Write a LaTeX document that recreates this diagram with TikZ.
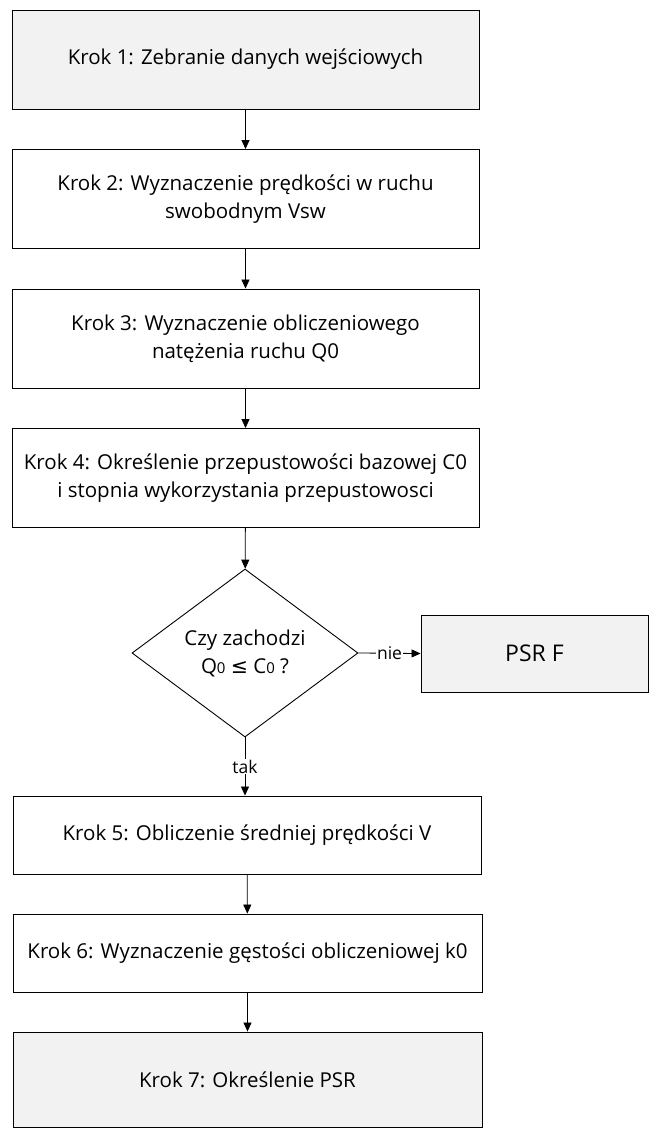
\documentclass[tikz,border=0pt]{standalone}
\usepackage{fontspec}
\setmainfont{Open Sans}
\newfontfamily\symfont{DejaVu Sans}
\usetikzlibrary{shapes.geometric,arrows.meta}

\begin{document}
\begin{tikzpicture}[x=1pt,y=-1pt,
  font=\fontsize{20.5}{28}\selectfont,
  stepbox/.style={draw,line width=0.9pt,align=center,inner sep=0pt},
  decision/.style={draw,diamond,line width=0.9pt,align=center,inner sep=0pt},
  flow/.style={-{Triangle[length=9pt,width=8pt]},line width=0.8pt},
  edgelabel/.style={fill=white,inner sep=1pt,font=\fontsize{17.5}{20}\selectfont}]
\useasboundingbox (0,0) rectangle (658,1138);

\node[stepbox,fill=black!5,minimum width=467,minimum height=99] (krok1) at (245.5,59.5) {Krok 1: Zebranie danych wejściowych};
\node[stepbox,minimum width=467,minimum height=99] (krok2) at (245.5,199) {Krok 2: Wyznaczenie prędkości w ruchu\\swobodnym Vsw};
\node[stepbox,minimum width=467,minimum height=99] (krok3) at (245.5,338.5) {Krok 3: Wyznaczenie obliczeniowego\\natężenia ruchu Q0};
\node[stepbox,minimum width=467,minimum height=99] (krok4) at (245.5,478) {Krok 4: Określenie przepustowości bazowej C0\\i stopnia wykorzystania przepustowosci};

\node[decision,minimum width=226,minimum height=168,aspect=1.35] (warunek) at (245,653) {Czy zachodzi\\Q{\fontsize{15}{17}\selectfont 0} {\symfont ≤} C{\fontsize{15}{17}\selectfont 0} ?};
\node[stepbox,fill=black!5,minimum width=227,minimum height=77,font=\fontsize{23}{28}\selectfont] (psrf) at (534.5,653.5) {PSR F};

\node[stepbox,minimum width=468,minimum height=78] (krok5) at (247,835) {Krok 5: Obliczenie średniej prędkości V};
\node[stepbox,minimum width=469,minimum height=78] (krok6) at (247.5,953) {Krok 6: Wyznaczenie gęstości obliczeniowej k0};
\node[stepbox,fill=black!5,minimum width=469,minimum height=95] (krok7) at (247.5,1079.5) {Krok 7: Określenie PSR};

\draw[flow] (krok1) -- (krok2);
\draw[flow] (krok2) -- (krok3);
\draw[flow] (krok3) -- (krok4);
\draw[flow] (krok4) -- (warunek);
\draw[flow] (warunek.east) -- node[edgelabel] {nie} (psrf.west);
\draw[flow] (warunek.south) -- node[edgelabel] {tak} (warunek.south |- krok5.north);
\draw[flow] (krok5) -- (krok6);
\draw[flow] (krok6) -- (krok7);
\end{tikzpicture}
\end{document}
